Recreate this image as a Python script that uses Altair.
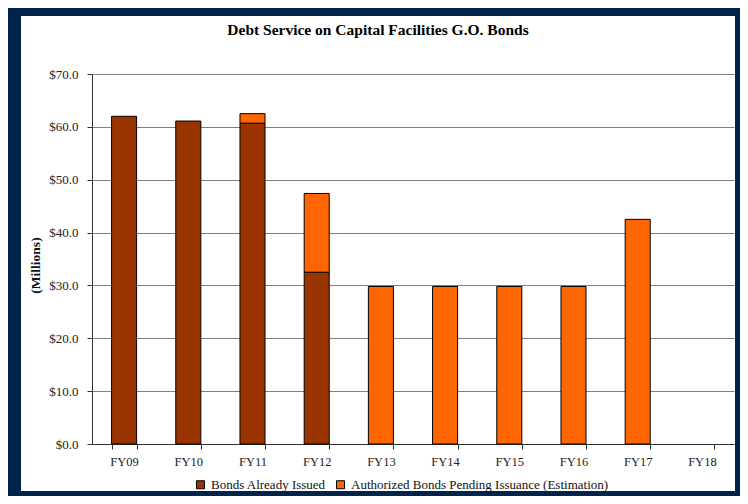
import altair as alt
import pandas as pd

categories = ["FY09", "FY10", "FY11", "FY12", "FY13", "FY14", "FY15", "FY16", "FY17", "FY18"]
series_names = ["Bonds Already Issued", "Authorized Bonds Pending Issuance (Estimation)"]
issued = [62.0, 61.1, 60.7, 32.5, 0, 0, 0, 0, 0, 0]
pending = [0, 0, 1.8, 14.9, 29.8, 29.8, 29.8, 29.8, 42.5, 0]
series_colors = ["#993300", "#FF6600"]
y_ticks = [0, 10, 20, 30, 40, 50, 60, 70]

rows = []
for i, cat in enumerate(categories):
    for k, vals in enumerate([issued, pending]):
        if vals[i] > 0:
            rows.append({"year": cat, "series": series_names[k], "value": vals[i], "ord": k})
df = pd.DataFrame(rows)

FONT = "Liberation Serif"
NAVY = "#01244A"

bars = alt.Chart(df).mark_bar(stroke="black", strokeWidth=1).encode(
    x=alt.X("year:N",
            scale=alt.Scale(domain=categories, paddingInner=0.61, paddingOuter=0.305),
            axis=alt.Axis(title=None, labelAngle=0, tickBand="extent", tickSize=5,
                          labelPadding=6, labelFont=FONT, labelFontSize=12.5,
                          labelColor="#222222", domainColor="#333333", tickColor="#333333",
                          grid=False)),
    y=alt.Y("value:Q", stack="zero",
            scale=alt.Scale(domain=[0, 70], nice=False),
            axis=alt.Axis(values=y_ticks, format="$.1f", title="(Millions)",
                          titleFont=FONT, titleFontSize=13.5, titleFontWeight="bold",
                          titleColor="#111111", titleX=-57, titleY=191,
                          titleBaseline="middle", titleAlign="center",
                          tickSize=5, labelPadding=9, labelFont=FONT, labelFontSize=13,
                          labelColor="#222222", domainColor="#333333", tickColor="#333333",
                          grid=True, gridColor="#7f7f7f", gridWidth=1)),
    color=alt.Color("series:N",
                    scale=alt.Scale(domain=series_names, range=series_colors),
                    legend=alt.Legend(title=None, orient="none", direction="horizontal",
                                      legendX=102, legendY=404, padding=0,
                                      symbolType="square", symbolSize=64,
                                      symbolStrokeColor="black", symbolStrokeWidth=1,
                                      labelFont=FONT, labelFontSize=13, labelColor="#111111",
                                      labelOffset=4, columnPadding=8, labelLimit=400)),
    order=alt.Order("ord:Q", sort="ascending"),
)

one = pd.DataFrame({"a": [0]})
frame_left = alt.Chart(one).mark_rect(color=NAVY).encode(
    x=alt.value(-84), x2=alt.value(-71), y=alt.value(-66), y2=alt.value(422))
frame_right = alt.Chart(one).mark_rect(color=NAVY).encode(
    x=alt.value(643), x2=alt.value(648), y=alt.value(-66), y2=alt.value(422))
frame_top = alt.Chart(one).mark_rect(color=NAVY).encode(
    x=alt.value(-84), x2=alt.value(648), y=alt.value(-66), y2=alt.value(-58))
frame_bottom = alt.Chart(one).mark_rect(color=NAVY).encode(
    x=alt.value(-84), x2=alt.value(648), y=alt.value(417), y2=alt.value(422))

chart = alt.layer(bars, frame_left, frame_right, frame_top, frame_bottom).properties(
    width=642, height=370,
    autosize=alt.AutoSizeParams(type="none"),
    padding={"left": 84, "top": 66, "right": 6, "bottom": 52},
    background="white",
    title=alt.TitleParams("Debt Service on Capital Facilities G.O. Bonds",
                          font=FONT, fontSize=15.5, fontWeight="bold", color="black",
                          anchor="middle", frame="bounds", offset=0, dy=30, dx=4),
).configure_view(stroke=None)

chart.save("out.html", embed_options={"renderer": "svg", "actions": False})
